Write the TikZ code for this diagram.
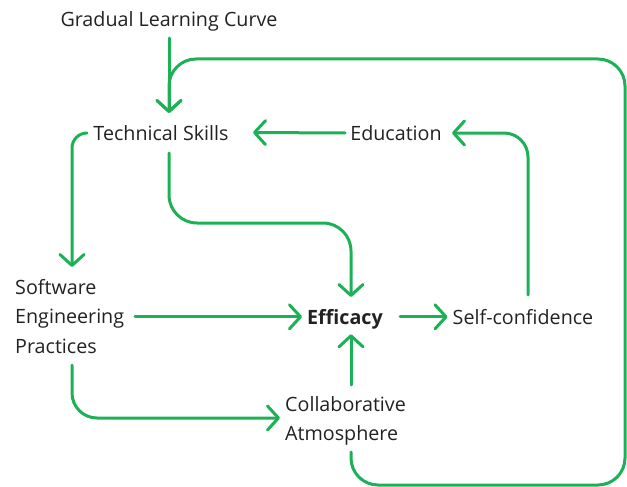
\documentclass[tikz,border=0pt]{standalone}
\usepackage{fontspec}
\setmainfont{Open Sans}
\usetikzlibrary{arrows.meta,calc}
\definecolor{g}{HTML}{1DB156}
\definecolor{txt}{HTML}{222222}
\newcommand{\fs}{\fontsize{19.7}{29.6}\selectfont}
\tikzset{
  lbl/.style={inner sep=0pt, text=txt, font=\fs},
  arr/.style={draw=g, line width=3pt, line cap=round, line join=round,
    -{Straight Barb[length=11pt,width=24pt,line cap=round,line join=round]}}
}
\begin{document}
\begin{tikzpicture}[x=1pt,y=-1pt]
\useasboundingbox (0,0) rectangle (627,487);
\node[lbl, anchor=base] (glc) at (169,26.5) {Gradual Learning Curve};
\node[lbl, anchor=base] (tech) at (161,140) {Technical Skills};
\node[lbl, anchor=base] (edu) at (396,140.5) {Education};
\node[lbl, anchor=base west, align=left] (sep) at (15,353.3) {Software\\Engineering\\Practices};
\node[lbl, font=\fs\bfseries, anchor=base] (eff) at (345,324.3) {Efficacy};
\node[lbl, anchor=base] (self) at (523,324.3) {Self-confidence};
\node[lbl, anchor=base west, align=left] (collab) at (285,440.7) {Collaborative\\Atmosphere};

% Gradual -> Technical
\draw[arr] ($(glc.base)+(0,11.5)$) -- ($(tech.base)+(8,-27)$);
% Education -> Technical
\draw[arr] ($(edu.base)+(-51,-7.5)$) -- ($(tech.base)+(92,-7.5)$);
% Self-confidence -> Education
\draw[arr, rounded corners=24pt] ($(self.base)+(5,-29.3)$) |- ($(edu.base)+(56,-7.5)$);
% Technical -> Efficacy
\draw[arr, rounded corners=28pt] ($(tech.base)+(8,13)$) -- ($(tech.base)+(8,83)$) -- ($(eff.base)+(6,-101.3)$) -- ($(eff.base)+(6,-27.3)$);
% Technical -> Software Engineering Practices
\draw[arr, rounded corners=15pt] ($(tech.base)+(-74,-7)$) -| ($(sep.base west)+(57,-86.3)$);
% SEP -> Efficacy
\draw[arr] ($(sep.base west)+(120,-36.5)$) -- ($(eff.base west)+(-5,-7.5)$);
% Efficacy -> Self-confidence
\draw[arr] ($(eff.base)+(55,-7.5)$) -- ($(self.base west)+(-5,-7.5)$);
% Collaborative -> Efficacy
\draw[arr] ($(collab.base west)+(66,-55.7)$) -- ($(eff.base)+(6,10)$);
% SEP -> Collaborative
\draw[arr, rounded corners=25pt] ($(sep.base west)+(57,11.7)$) |- ($(collab.base west)+(-5,-22.7)$);
% Collaborative -> Technical (loop)
\draw[arr, rounded corners=27pt] ($(collab.base west)+(66,11.3)$) -- ($(collab.base west)+(66,44.3)$) -- (625,485) -- (625,59) -- ($(tech.base)+(8,-81)$) -- ($(tech.base)+(8,-27)$);
\end{tikzpicture}
\end{document}
